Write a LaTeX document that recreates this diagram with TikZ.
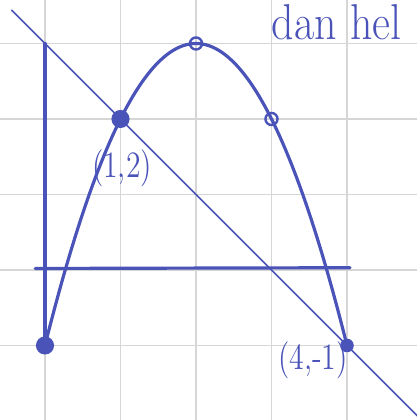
\documentclass[tikz,border=0pt]{standalone}
\usepackage{tikz}
\definecolor{penblue}{HTML}{4A53B8}
\definecolor{gridgray}{HTML}{D6D6D6}
\tikzset{pen/.style={penblue,line width=1.2pt,line cap=round,line join=round},
	thinpen/.style={penblue,line width=0.6pt,line cap=round},
	dot/.style={circle,fill=penblue,inner sep=0pt,minimum size=2.4mm},
	ring/.style={circle,draw=penblue,line width=0.9pt,inner sep=0pt,minimum size=1.6mm},
	lbl/.style={text=penblue,font=\fontsize{14}{16}\selectfont,inner sep=0pt,xscale=0.8}}

\begin{document}
\begin{tikzpicture}[x=1cm,y=1cm]
	\useasboundingbox (-0.596,-1.987) rectangle (4.927,3.576);
	\clip (-0.596,-1.987) rectangle (4.927,3.576);
	\draw[gridgray,line width=0.4pt] (-1,-2) grid (5,4);
	\coordinate (ytop) at (0,3);
	\coordinate (xl) at (-0.13,0.02);
	\coordinate (xr) at (4.04,0.03);
	\coordinate (la) at (-0.44,3.44);
	\coordinate (lb) at (5.2,-2.2);
	\draw[pen] (ytop) -- (0,-1);
	\draw[pen] (xl) -- (xr);
	\draw[thinpen] (la) -- (lb);
	\draw[pen] plot[domain=0:4,samples=60,smooth] (\x,{-\x*\x+4*\x-1});
	\node[dot] (p0) at (0,-1) {};
	\node[dot] (p1) at (1,2) {};
	\node[ring] (p2) at (2,3) {};
	\node[ring] (p3) at (3,2) {};
	\node[dot,minimum size=1.8mm] (p4) at (4,-1) {};
	\node[lbl] (l1) at (1.02,1.35) {(1,2)};
	\node[lbl] (l4) at (3.55,-1.19) {(4,-1)};
	\node[lbl,anchor=base west,font=\fontsize{19}{21}\selectfont,xscale=1.09] (title) at (3.0,3.05) {dan hel};
\end{tikzpicture}
\end{document}
